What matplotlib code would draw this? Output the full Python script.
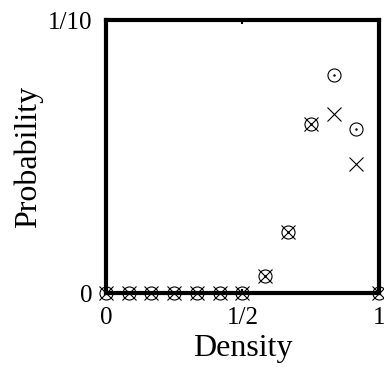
import numpy as np
import matplotlib.pyplot as plt

plt.rcParams['font.family'] = ['Liberation Serif', 'DejaVu Serif']

# density steps k/12
density = np.arange(13) / 12
prob_circle = [0, 0, 0, 0, 0, 0, 0, 0.0061, 0.0222, 0.0620, 0.0799, 0.0600, 0]
prob_cross = [0, 0, 0, 0, 0, 0, 0, 0.0061, 0.0222, 0.0620, 0.0655, 0.0473, 0]

xticks = [0, 0.5, 1]
xticklabels = ['0', '1/2', '1']
yticks = [0, 0.1]
yticklabels = ['0', '1/10']

def main():
    fig = plt.figure(figsize=(3.84, 3.67), dpi=100)
    ax = fig.add_axes([0.276, 0.2016, 0.711, 0.7439])

    ax.plot(density, prob_circle, linestyle='none', marker='o', markersize=9.4,
            markerfacecolor='none', markeredgecolor='black', markeredgewidth=0.8,
            clip_on=False, zorder=3)
    ax.plot(density, prob_circle, linestyle='none', marker='.', markersize=1.5,
            color='black', clip_on=False, zorder=3)
    ax.plot(density, prob_cross, linestyle='none', marker='x', markersize=9.4,
            markeredgecolor='black', markeredgewidth=0.8,
            clip_on=False, zorder=3)

    ax.set_xlim(0, 1)
    ax.set_ylim(0, 0.1)
    ax.set_xticks(xticks)
    ax.set_xticklabels(xticklabels)
    ax.set_yticks(yticks)
    ax.set_yticklabels(yticklabels)
    ax.tick_params(direction='in', length=3, width=1.5, labelsize=18, pad=10,
                   top=True, right=True)

    for s in ax.spines.values():
        s.set_linewidth(3)

    ax.set_xlabel('Density', fontsize=23, labelpad=4)
    ax.set_ylabel('Probability', fontsize=23, labelpad=3)

    fig.savefig('out.png', dpi=100)

if __name__ == "__main__":
    main()
